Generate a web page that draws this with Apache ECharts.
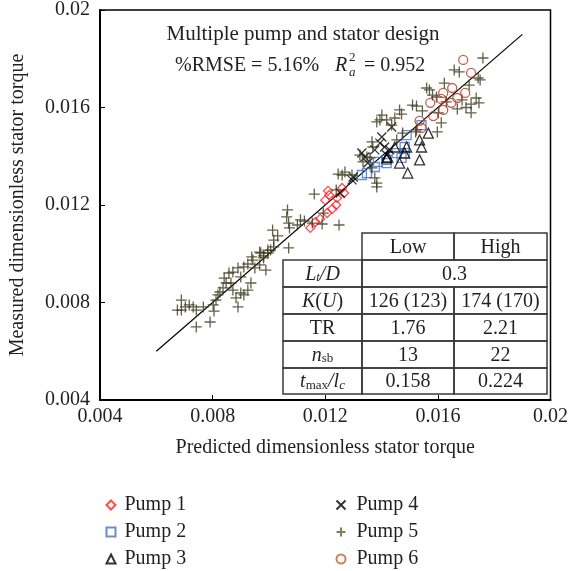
<!DOCTYPE html>
<html>
<head>
<meta charset="utf-8">
<script src="https://cdn.jsdelivr.net/npm/echarts@6/dist/echarts.min.js"></script>
<style>
  html, body { margin: 0; padding: 0; background: #fff; }
  #chart { width: 571px; height: 571px; }
</style>
</head>
<body>
<div id="chart"></div>
<script>
// values: [predicted, measured]
const pump1 = [
  [0.01147, 0.01106], [0.01165, 0.0113], [0.01182, 0.01143], [0.01207, 0.01167],
  [0.01225, 0.01184], [0.0120, 0.0122], [0.01214, 0.01241], [0.01242, 0.01229],
  [0.0121, 0.01258], [0.0126, 0.0127], [0.01267, 0.01249], [0.01239, 0.0120]
]
const pump2 = [
  [0.01489, 0.01487], [0.01542, 0.01528], [0.01482, 0.01438], [0.01482, 0.01413],
  [0.01454, 0.01413], [0.01418, 0.01385], [0.01387, 0.01377], [0.01418, 0.01372],
  [0.01376, 0.01356], [0.01348, 0.01331], [0.0133, 0.01323], [0.01471, 0.01393]
]
const pump3 = [
  [0.01566, 0.01495], [0.01535, 0.01467], [0.01542, 0.01438], [0.01489, 0.01438],
  [0.01447, 0.01438], [0.01422, 0.01397], [0.01464, 0.01372], [0.01535, 0.01385],
  [0.01493, 0.01331], [0.01482, 0.01413], [0.01418, 0.01393]
]
const pump4 = [
  [0.01436, 0.0152], [0.01401, 0.01479], [0.01394, 0.01454], [0.01411, 0.01438],
  [0.01429, 0.01426], [0.0133, 0.01413], [0.01341, 0.01397], [0.01351, 0.01372],
  [0.01299, 0.01315], [0.01295, 0.01303], [0.01253, 0.01249], [0.01418, 0.01405],
  [0.01376, 0.01426]
]
const pump5 = [
  [0.00689, 0.0081], [0.00675, 0.00769], [0.00689, 0.00769], [0.00703, 0.00782],
  [0.00717, 0.0079], [0.00731, 0.00782], [0.00742, 0.00769], [0.00767, 0.00782],
  [0.00742, 0.0070], [0.00791, 0.0072], [0.00805, 0.00765], [0.00802, 0.0079],
  [0.00812, 0.0081], [0.00819, 0.00831], [0.00826, 0.00843], [0.00837, 0.0086],
  [0.00848, 0.0088], [0.00841, 0.009], [0.00858, 0.00921], [0.00872, 0.00925],
  [0.00865, 0.0088], [0.00872, 0.00851], [0.0089, 0.00782], [0.00883, 0.00819],
  [0.009, 0.00839], [0.00911, 0.00831], [0.00925, 0.00851], [0.00936, 0.0088],
  [0.009, 0.00905], [0.0089, 0.00942], [0.00911, 0.00946], [0.00925, 0.00958],
  [0.00943, 0.00974], [0.0095, 0.00942], [0.00967, 0.00954], [0.00971, 0.01003],
  [0.00981, 0.00983], [0.00989, 0.00933], [0.00996, 0.01015],
  [0.00939, 0.00987], [0.00967, 0.01007], [0.00981, 0.00991], [0.00996, 0.01003],
  [0.01006, 0.01015], [0.01017, 0.01028], [0.01013, 0.01097], [0.01031, 0.01073],
  [0.01017, 0.01056], [0.0107, 0.01024], [0.01066, 0.0118], [0.01063, 0.01151],
  [0.0107, 0.01126], [0.01073, 0.01106], [0.01101, 0.01118], [0.01112, 0.01139],
  [0.01126, 0.01134], [0.01154, 0.01126], [0.01161, 0.01245], [0.01193, 0.01167],
  [0.01189, 0.01122], [0.01239, 0.01262], [0.01249, 0.01118], [0.01246, 0.01327],
  [0.01401, 0.01569], [0.01383, 0.01541], [0.01418, 0.01549], [0.01436, 0.01528],
  [0.01464, 0.0159], [0.0151, 0.0161], [0.01524, 0.01508], [0.01366, 0.01459],
  [0.01369, 0.01438], [0.01323, 0.01405], [0.01348, 0.01397], [0.01359, 0.01393],
  [0.01334, 0.01377], [0.01366, 0.01352], [0.0127, 0.01335], [0.0126, 0.01323],
  [0.01295, 0.01323], [0.01383, 0.01274], [0.01376, 0.01311], [0.01454, 0.01467],
  [0.01475, 0.01495], [0.0176, 0.01803], [0.01676, 0.01746], [0.01743, 0.01721],
  [0.0175, 0.01713], [0.01711, 0.01692], [0.0157, 0.01672], [0.01623, 0.017],
  [0.01581, 0.01651], [0.01686, 0.01631], [0.01718, 0.01614], [0.01746, 0.01619],
  [0.01718, 0.01578], [0.01669, 0.01594], [0.0163, 0.01623], [0.01524, 0.01606],
  [0.01545, 0.01586], [0.01602, 0.01578], [0.01471, 0.01573], [0.01612, 0.01537],
  [0.01521, 0.015], [0.01658, 0.01754], [0.0156, 0.0168], [0.01595, 0.01643],
  [0.0170, 0.0160], [0.01736, 0.01639], [0.01394, 0.01549], [0.01447, 0.01557],
  [0.01598, 0.0150], [0.01383, 0.0129]
]
const pump6 = [
  [0.0169, 0.01795], [0.01718, 0.01742], [0.01651, 0.0168], [0.01619, 0.0166],
  [0.01612, 0.01635], [0.01697, 0.0166], [0.01669, 0.01639], [0.01648, 0.01619],
  [0.01573, 0.01619], [0.01619, 0.0159], [0.01584, 0.01565], [0.01535, 0.01545],
  [0.01542, 0.01516]
]
const fitLine = [[0.006, 0.006], [0.019, 0.019]]

const xTicks = { min: 0.004, max: 0.02, interval: 0.004 }
const yTicks = { min: 0.004, max: 0.02, interval: 0.004 }

const tableHead = ['Low', 'High']
const tableLabels = ['{i|L}{is|t}{i|/D}', '{i|K}{r|(}{i|U}{r|)}', '{r|TR}', '{i|n}{s|sb}', '{i|t}{s|max}{i|/l}{is|c}']
const tableLow = ['0.3', '126 (123)', '1.76', '13', '0.158']
const tableHigh = [null, '174 (170)', '2.21', '22', '0.224'] // null = merged with Low

const FONT = '"Liberation Serif", "DejaVu Serif", serif'
const TXT = '#231f20'

const plus = 'path://M5,0L5,10M0,5L10,5'
const cross = 'path://M0,0L10,10M10,0L0,10'

function pumpSeries (name, data, symbol, size, color) {
  return {
    name: name,
    type: 'scatter',
    data: data,
    symbol: symbol,
    symbolSize: size,
    itemStyle: { color: 'none', borderColor: color, borderWidth: 1.3 },
    emphasis: { disabled: true },
    z: 3
  }
}

const myChart = echarts.init(document.getElementById('chart'))

// table drawn as plain graphic cells
const tableGraphics = []
const colX = [283, 362, 454, 547]
const rowY = [233, 260, 287, 314, 341, 368, 394]
const rich = {
  r: { fontSize: 20, fontFamily: FONT, lineHeight: 20 },
  i: { fontSize: 20, fontFamily: FONT, fontStyle: 'italic', lineHeight: 20 },
  s: { fontSize: 13, fontFamily: FONT, verticalAlign: 'bottom', lineHeight: 10 },
  is: { fontSize: 13, fontFamily: FONT, fontStyle: 'italic', verticalAlign: 'bottom', lineHeight: 10 }
}
let cellId = 0
function cell (x1, x2, y1, y2, text) {
  cellId++
  tableGraphics.push({
    type: 'rect',
    id: 'cellbox' + cellId,
    shape: { x: x1, y: y1, width: x2 - x1, height: y2 - y1 },
    style: { fill: 'none', stroke: '#3a3a3a', lineWidth: 1.5 },
    z: 10
  })
  tableGraphics.push({
    type: 'text',
    id: 'celltext' + cellId,
    x: (x1 + x2) / 2,
    y: (y1 + y2) / 2 + 1,
    style: {
      text: text, rich: rich, fill: TXT, fontSize: 20, fontFamily: FONT,
      align: 'center', verticalAlign: 'middle'
    },
    z: 11
  })
}
cell(colX[1], colX[2], rowY[0], rowY[1], tableHead[0])
cell(colX[2], colX[3], rowY[0], rowY[1], tableHead[1])
tableLabels.forEach((label, k) => {
  const y1 = rowY[k + 1]
  const y2 = rowY[k + 2]
  cell(colX[0], colX[1], y1, y2, label)
  if (tableHigh[k] === null) {
    cell(colX[1], colX[3], y1, y2, tableLow[k])
  } else {
    cell(colX[1], colX[2], y1, y2, tableLow[k])
    cell(colX[2], colX[3], y1, y2, tableHigh[k])
  }
})

// one legend per entry, laid out in two columns of three
const legendItems = [
  'Pump 1', 'Pump 2', 'Pump 3',
  'Pump 4', { name: 'Pump 5', itemStyle: { borderColor: '#4e6b30' } }, { name: 'Pump 6', itemStyle: { borderColor: '#c0622d' } }
]
const legends = legendItems.map((item, k) => ({
  left: k < 3 ? 99 : 329,
  top: 490 + (k % 3) * 27,
  itemWidth: 9,
  itemHeight: 9,
  selectedMode: false,
  data: [item],
  textStyle: { fontSize: 20, fontFamily: FONT, color: TXT, lineHeight: 20, padding: [0, 0, 0, k < 3 ? 4 : 6] }
}))

myChart.setOption({
  animation: false,
  backgroundColor: '#fff',
  grid: {
    left: 98, right: 19, top: 10, bottom: 171,
    show: true, borderColor: '#000', borderWidth: 1.5
  },
  legend: legends,
  xAxis: {
    type: 'value',
    min: xTicks.min, max: xTicks.max, interval: xTicks.interval,
    name: 'Predicted dimensionless stator torque',
    nameLocation: 'middle',
    nameGap: 38,
    nameTextStyle: { fontSize: 20, fontFamily: FONT, color: TXT },
    axisLine: { lineStyle: { color: '#000', width: 2 } },
    axisTick: { inside: true, length: 5, lineStyle: { color: '#000' } },
    axisLabel: { fontSize: 20, fontFamily: FONT, color: TXT, margin: 7, formatter: v => String(+v.toFixed(3)) },
    splitLine: { show: false }
  },
  yAxis: {
    type: 'value',
    min: yTicks.min, max: yTicks.max, interval: yTicks.interval,
    name: 'Measured dimensionless stator torque',
    nameLocation: 'middle',
    nameGap: 72,
    nameTextStyle: { fontSize: 20, fontFamily: FONT, color: TXT },
    axisLine: { lineStyle: { color: '#000', width: 2 } },
    axisTick: { inside: true, length: 5, lineStyle: { color: '#000' } },
    axisLabel: { fontSize: 20, fontFamily: FONT, color: TXT, margin: 10, formatter: v => String(+v.toFixed(3)) },
    splitLine: { show: false }
  },
  graphic: {
    elements: [
      {
        type: 'text', id: 'title1', x: 303, y: 34,
        style: { text: 'Multiple pump and stator design', fontSize: 21, fontFamily: FONT, fill: TXT, align: 'center', verticalAlign: 'middle' }
      },
      {
        type: 'text', id: 'rmse', x: 175, y: 66,
        style: { text: '%RMSE = 5.16%', fontSize: 20, fontFamily: FONT, fill: TXT, align: 'left', verticalAlign: 'middle' }
      },
      {
        type: 'text', id: 'rR', x: 335, y: 66,
        style: { text: 'R', fontSize: 20, fontFamily: FONT, fontStyle: 'italic', fill: TXT, align: 'left', verticalAlign: 'middle' }
      },
      {
        type: 'text', id: 'rSup', x: 349, y: 58,
        style: { text: '2', fontSize: 13, fontFamily: FONT, fill: TXT, align: 'left', verticalAlign: 'middle' }
      },
      {
        type: 'text', id: 'rSub', x: 349, y: 73,
        style: { text: 'a', fontSize: 13, fontFamily: FONT, fontStyle: 'italic', fill: TXT, align: 'left', verticalAlign: 'middle' }
      },
      {
        type: 'text', id: 'rVal', x: 364, y: 66,
        style: { text: '= 0.952', fontSize: 20, fontFamily: FONT, fill: TXT, align: 'left', verticalAlign: 'middle' }
      }
    ].concat(tableGraphics)
  },
  series: [
    {
      type: 'line',
      data: fitLine,
      symbol: 'none',
      lineStyle: { color: '#000', width: 1.2 },
      silent: true,
      z: 2
    },
    pumpSeries('Pump 1', pump1, 'diamond', 9, '#ff2020'),
    pumpSeries('Pump 2', pump2, 'rect', 9, '#4472c4'),
    pumpSeries('Pump 3', pump3, 'triangle', 10, '#000'),
    pumpSeries('Pump 4', pump4, cross, 9, '#000'),
    pumpSeries('Pump 5', pump5, plus, 11, '#3a3a1c'),
    pumpSeries('Pump 6', pump6, 'circle', 9, '#b03a20')
  ]
})
</script>
</body>
</html>
